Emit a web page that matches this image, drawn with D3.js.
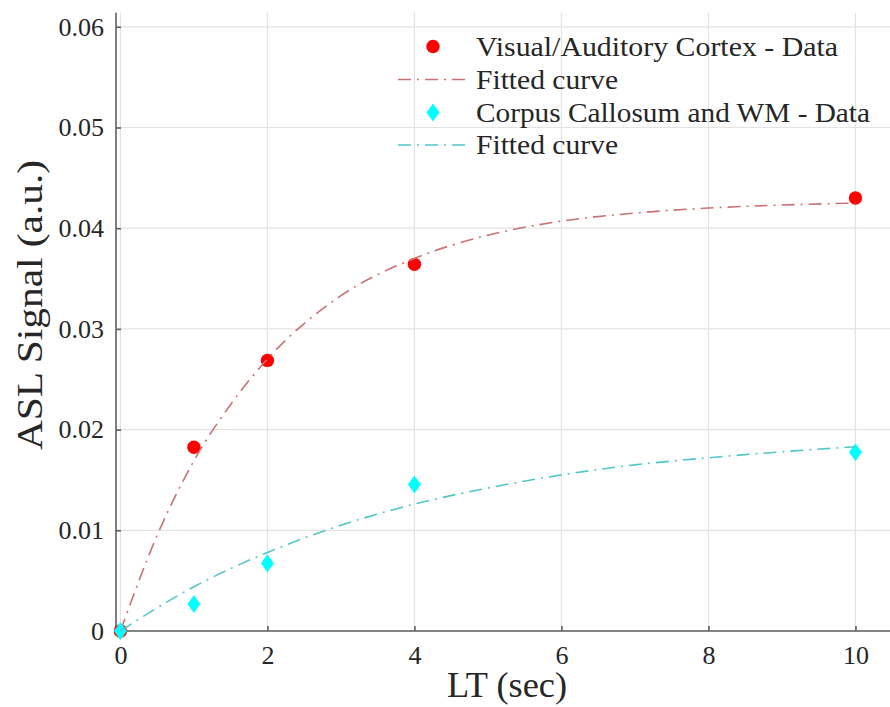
<!DOCTYPE html>
<html>
<head>
<meta charset="utf-8">
<script src="https://cdn.jsdelivr.net/npm/d3@7"></script>
<style>
  html, body { margin: 0; padding: 0; background: #fff; }
  svg { display: block; }
  text { font-family: "Liberation Serif", "Times New Roman", serif; fill: #262626; }
</style>
</head>
<body>
<svg id="chart" width="890" height="707"></svg>
<script>
// ---- data ----
const xTicks = [0, 2, 4, 6, 8, 10];
const yTicks = [0, 0.01, 0.02, 0.03, 0.04, 0.05, 0.06];
const yTickLabels = ["0", "0.01", "0.02", "0.03", "0.04", "0.05", "0.06"];

const cortexLT = [0, 1, 2, 4, 10];
const cortexSignal = [0, 0.01825, 0.02687, 0.03641, 0.0430];

const wmLT = [0, 1, 2, 4, 10];
const wmSignal = [0, 0.00268, 0.00672, 0.01454, 0.01775];

// fitted curves
const fitLT = [0, 0.5, 1, 1.5, 2, 3, 4, 5, 6, 7, 8, 9, 10];
const cortexFit = [0, 0.0095, 0.0169, 0.0225, 0.0270, 0.0333, 0.0370, 0.0393, 0.0407, 0.0415, 0.0420, 0.0423, 0.0425];
const wmFit = [0, 0.0023, 0.0044, 0.0062, 0.0078, 0.0105, 0.0126, 0.0142, 0.0155, 0.0165, 0.0172, 0.0178, 0.0183];

const legendLabels = ["Visual/Auditory Cortex - Data", "Fitted curve", "Corpus Callosum and WM - Data", "Fitted curve"];
const xLabel = "LT (sec)";
const yLabel = "ASL Signal (a.u.)";

// ---- layout ----
const svg = d3.select("#chart");
const pLeft = 116, pRight = 890, pTop = 12.7, pBottom = 631;
const x = d3.scaleLinear().domain([-0.06, 10.47]).range([pLeft, pRight]);
const y = d3.scaleLinear().domain([0, 0.0614]).range([pBottom, pTop]);

const redFill = "#ff0000", cyanFill = "#00ffff";
const redLine = "#c97272", cyanLine = "#52c6c6";
const dash = "13,6,2,6";

// grid
const grid = svg.append("g");
grid.selectAll("line.vx").data(xTicks).join("line")
  .attr("x1", d => x(d)).attr("x2", d => x(d))
  .attr("y1", pTop).attr("y2", pBottom)
  .attr("stroke", "#e3e3e3").attr("stroke-width", 1.2);
grid.selectAll("line.hy").data(yTicks).join("line")
  .attr("x1", pLeft).attr("x2", pRight)
  .attr("y1", d => y(d)).attr("y2", d => y(d))
  .attr("stroke", "#e3e3e3").attr("stroke-width", 1.2);

// axes
const xAxis = d3.axisBottom(x).tickValues(xTicks).tickSizeInner(-5).tickSizeOuter(0).tickPadding(22)
  .tickFormat(d3.format("d"));
const gx = svg.append("g").attr("transform", `translate(0,${pBottom})`).call(xAxis);
const yAxis = d3.axisLeft(y).tickValues(yTicks).tickSizeInner(-5).tickSizeOuter(0).tickPadding(12)
  .tickFormat((d, i) => yTickLabels[i]);
const gy = svg.append("g").attr("transform", `translate(${pLeft},0)`).call(yAxis);

[gx, gy].forEach(g => {
  g.select(".domain").attr("stroke", "#5e5e5e").attr("stroke-width", 1.6);
  g.selectAll(".tick line").attr("stroke", "#5e5e5e").attr("stroke-width", 1.6);
  g.selectAll(".tick text").attr("font-family", "Liberation Serif, serif")
    .attr("font-size", 26).attr("fill", "#262626");
});
gx.select(".domain").attr("d", `M${pLeft},0H${pRight}`);
gy.select(".domain").attr("d", `M0,${pTop}V${pBottom}`);
gx.selectAll(".tick text").attr("dy", "0.71em").attr("y", 15);

// axis labels
svg.append("text").attr("x", 507).attr("y", 697)
  .attr("text-anchor", "middle").attr("font-size", 35)
  .attr("textLength", 120).attr("lengthAdjust", "spacingAndGlyphs").text(xLabel);
svg.append("text")
  .attr("transform", `translate(42,305) rotate(-90)`)
  .attr("text-anchor", "middle").attr("font-size", 35)
  .attr("textLength", 290).attr("lengthAdjust", "spacingAndGlyphs").text(yLabel);

const line = d3.line().curve(d3.curveMonotoneX).x(d => x(d[0])).y(d => y(d[1]));
const diamond = (cx, cy) => `M${cx},${cy - 9}L${cx + 6.5},${cy}L${cx},${cy + 9}L${cx - 6.5},${cy}Z`;

// plot (order as legend)
svg.append("g").selectAll("circle").data(d3.zip(cortexLT, cortexSignal)).join("circle")
  .attr("cx", d => x(d[0])).attr("cy", d => y(d[1])).attr("r", 6.7).attr("fill", redFill);
svg.append("path").datum(d3.zip(fitLT, cortexFit)).attr("d", line)
  .attr("fill", "none").attr("stroke", redLine).attr("stroke-width", 1.6).attr("stroke-dasharray", dash);
svg.append("g").selectAll("path").data(d3.zip(wmLT, wmSignal)).join("path")
  .attr("d", d => diamond(x(d[0]), y(d[1]))).attr("fill", cyanFill);
svg.append("path").datum(d3.zip(fitLT, wmFit)).attr("d", line)
  .attr("fill", "none").attr("stroke", cyanLine).attr("stroke-width", 1.6).attr("stroke-dasharray", dash);

// legend
const legY = [46.5, 79.5, 112.5, 145];
const legW = [362, 142, 394, 142];
const lg = svg.append("g");
lg.append("circle").attr("cx", 433).attr("cy", legY[0]).attr("r", 6.7).attr("fill", redFill);
lg.append("line").attr("x1", 398).attr("x2", 470).attr("y1", legY[1]).attr("y2", legY[1])
  .attr("stroke", redLine).attr("stroke-width", 1.6).attr("stroke-dasharray", dash);
lg.append("path").attr("d", diamond(433, legY[2])).attr("fill", cyanFill);
lg.append("line").attr("x1", 398).attr("x2", 470).attr("y1", legY[3]).attr("y2", legY[3])
  .attr("stroke", cyanLine).attr("stroke-width", 1.6).attr("stroke-dasharray", dash);
lg.selectAll("text").data(legendLabels).join("text")
  .attr("x", 476).attr("y", (d, i) => legY[i]).attr("dy", "0.35em")
  .attr("font-size", 27)
  .attr("textLength", (d, i) => legW[i]).attr("lengthAdjust", "spacingAndGlyphs")
  .text(d => d);
</script>
</body>
</html>
